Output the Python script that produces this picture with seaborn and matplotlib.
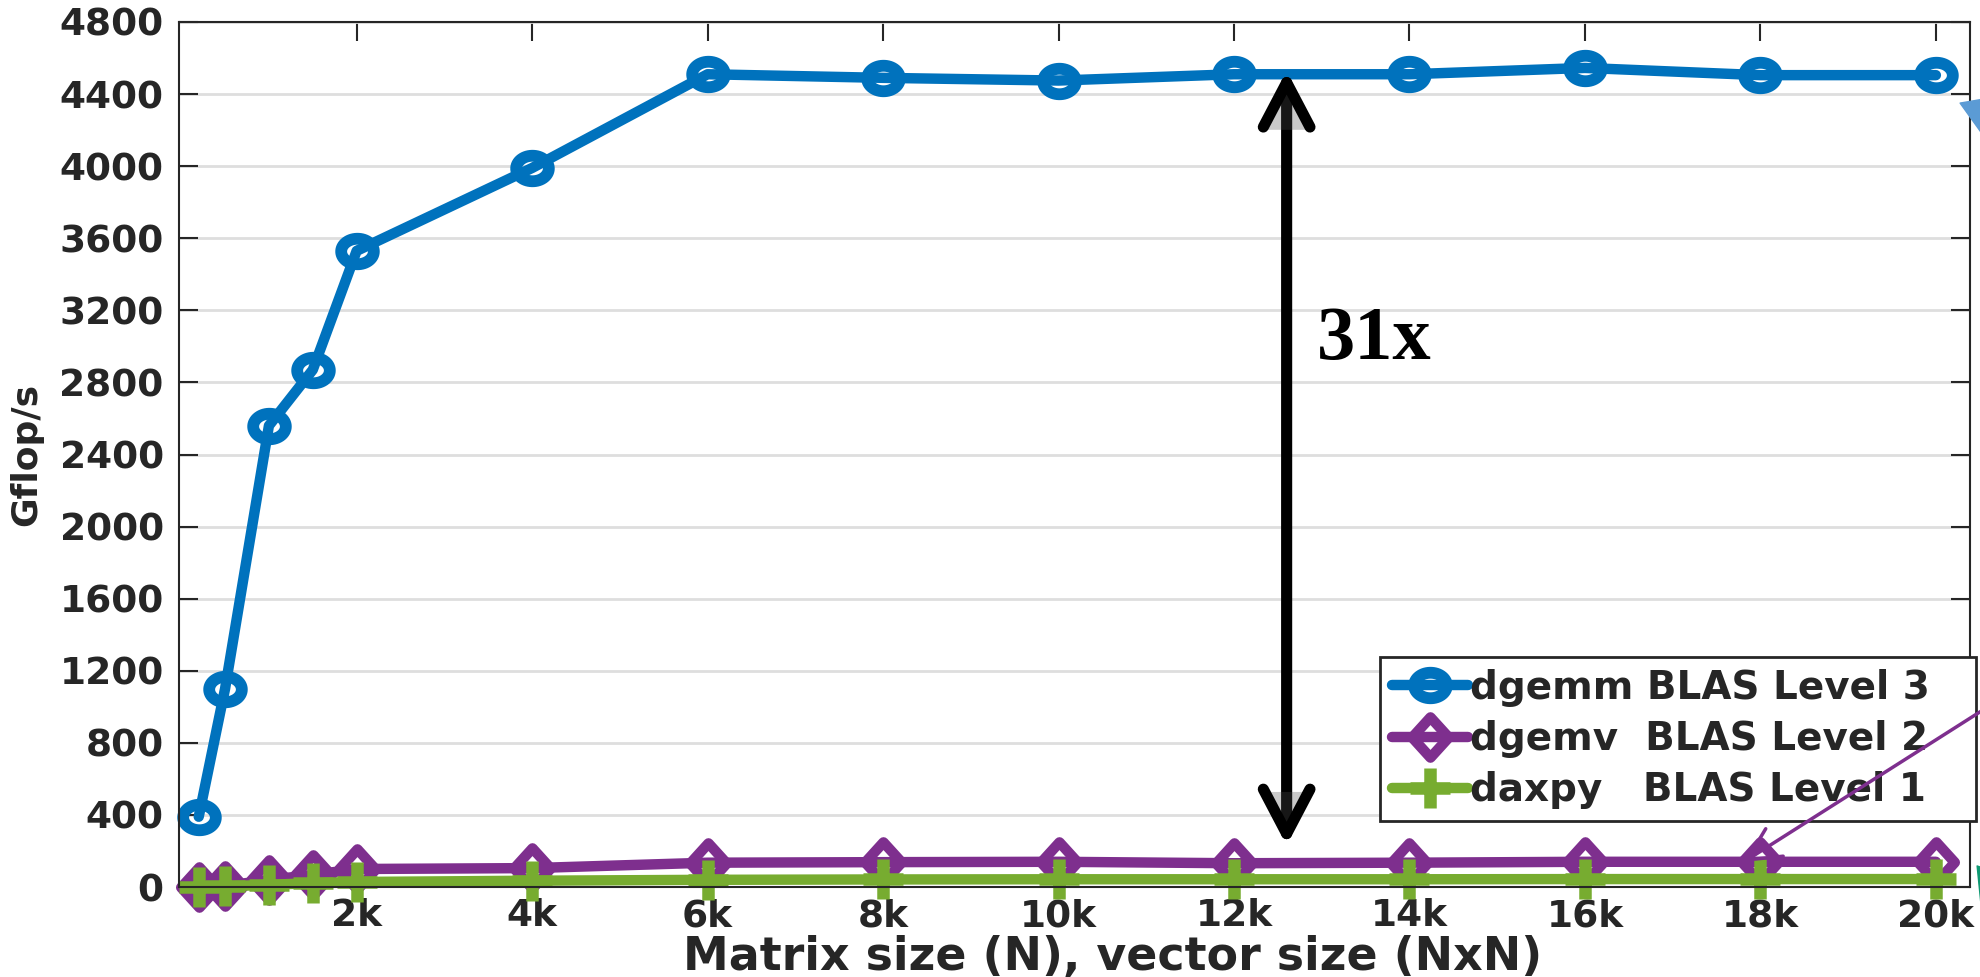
import numpy as np
import pandas as pd
import seaborn as sns
import matplotlib.pyplot as plt
import matplotlib.patheffects as pe
from matplotlib.path import Path
from matplotlib.markers import MarkerStyle

# matrix sizes (N) and measured rates (Gflop/s)
sizes = [200, 500, 1000, 1500, 2000, 4000, 6000, 8000, 10000, 12000, 14000, 16000, 18000, 20000]
dgemm = [390, 1100, 2560, 2870, 3530, 3990, 4510, 4490, 4475, 4510, 4510, 4545, 4505, 4505]
dgemv = [2, 5, 40, 67, 100, 105, 135, 138, 140, 132, 135, 140, 140, 140]
daxpy = [2, 4, 12, 22, 28, 35, 40, 42, 43, 43, 43, 44, 44, 44]

labels = ['dgemm BLAS Level 3', 'dgemv  BLAS Level 2', 'daxpy   BLAS Level 1']
colors = ['#0072BD', '#7E2F8E', '#77AC30']

xticks = [2000, 4000, 6000, 8000, 10000, 12000, 14000, 16000, 18000, 20000]
xticklabels = ['2k', '4k', '6k', '8k', '10k', '12k', '14k', '16k', '18k', '20k']
yticks = list(range(0, 4801, 400))

# the original figure was stretched sideways, so the markers are a bit squashed
t = np.linspace(0, 2 * np.pi, 60)
ellipse = MarkerStyle(Path(np.c_[1.28 * np.cos(t), np.sin(t)], closed=True))
diamond = MarkerStyle(Path([(0, 1.1), (1, 0), (0, -1.1), (-1, 0), (0, 1.1)], closed=True),
                      joinstyle='miter')
markers = [ellipse, diamond, '+']
msizes = [23.5, 29, 29]
mews = [8.5, 7.5, 9]

sns.set_theme(style='whitegrid')
plt.rcParams['font.family'] = ['DejaVu Sans']
plt.rcParams['font.weight'] = 'bold'

fig = plt.figure(figsize=(19.8, 9.77), dpi=100)
ax = fig.add_axes([0.0904, 0.0921, 0.9046, 0.8854])

df = pd.DataFrame({'N': sizes, labels[0]: dgemm, labels[1]: dgemv, labels[2]: daxpy})
for lab, c, m, ms, mw in zip(labels, colors, markers, msizes, mews):
    sns.lineplot(data=df, x='N', y=lab, ax=ax, color=c, lw=7.5, marker=m, ms=ms,
                 mew=mw, markeredgecolor=c, markerfacecolor='none', label=lab,
                 clip_on=False)

ax.set_xlim(-25, 20390)
ax.set_ylim(0, 4800)
ax.set_xticks(xticks)
ax.set_xticklabels(xticklabels)
ax.set_yticks(yticks)
ax.tick_params(direction='in', length=14, width=1.5, colors='#262626',
               labelsize=27, top=True, right=True, bottom=True, left=True)
ax.tick_params(axis='y', pad=11)
ax.tick_params(axis='x', pad=8)
for tl in ax.get_xticklabels() + ax.get_yticklabels():
    tl.set_fontweight('bold')

ax.grid(axis='x', visible=False)
ax.grid(axis='y', color='#dedede', lw=2)
for s in ax.spines.values():
    s.set_color('#262626')
    s.set_linewidth(1.5)

ax.set_xlabel('Matrix size (N), vector size (NxN)', fontsize=33, fontweight='bold',
              color='#262626')
ax.xaxis.set_label_coords(0.5215, -0.056)
ax.set_ylabel('Gflop/s', fontsize=26, fontweight='bold', color='#262626', labelpad=12)

leg = ax.legend(loc='lower left', bbox_to_anchor=(0.6706, 0.0763, 0.3327, 0.17),
                mode='expand', borderaxespad=0,
                frameon=True, fancybox=False, framealpha=1,
                edgecolor='#262626', handlelength=1.95, handletextpad=0.05,
                labelspacing=0.34, borderpad=0.3, prop={'weight': 'bold', 'size': 28})
leg.get_frame().set_linewidth(2)

# 31x gap arrow
ax.annotate('', xy=(12600, 4530), xytext=(12600, 230),
            arrowprops=dict(arrowstyle='<->,head_length=0.8,head_width=0.42', lw=8,
                            color='black', mutation_scale=40, shrinkA=0, shrinkB=0,
                            path_effects=[pe.SimplePatchShadow(offset=(2, -2), alpha=0.3),
                                          pe.Normal()]))
ax.text(12950, 3030, '31x', fontsize=55, fontweight='bold', family='Liberation Serif',
        color='black', va='center', ha='left')

# callout arrows coming from outside the plot
ax.annotate('', xy=(17810, 139), xytext=(21580, 1305), annotation_clip=False, zorder=10,
            arrowprops=dict(arrowstyle='->,head_length=0.9,head_width=0.45', lw=2.5,
                            color='#7E2F8E', mutation_scale=26, shrinkA=0, shrinkB=0))
ax.annotate('', xy=(20276, 4350), xytext=(21300, 4145), annotation_clip=False, zorder=10,
            arrowprops=dict(arrowstyle='simple,head_length=0.8,head_width=1.0,tail_width=0.35',
                            color='#5b9bd5', mutation_scale=30, shrinkA=0, shrinkB=0,
                            path_effects=[pe.SimplePatchShadow(offset=(2, -2), alpha=0.25),
                                          pe.Normal()]))
ax.annotate('', xy=(20470, 117), xytext=(21300, -405), annotation_clip=False, zorder=10,
            arrowprops=dict(arrowstyle='simple,head_length=0.8,head_width=1.0,tail_width=0.35',
                            color='#0f9a73', mutation_scale=30, shrinkA=0, shrinkB=0))

fig.savefig('out.png', dpi=100)
